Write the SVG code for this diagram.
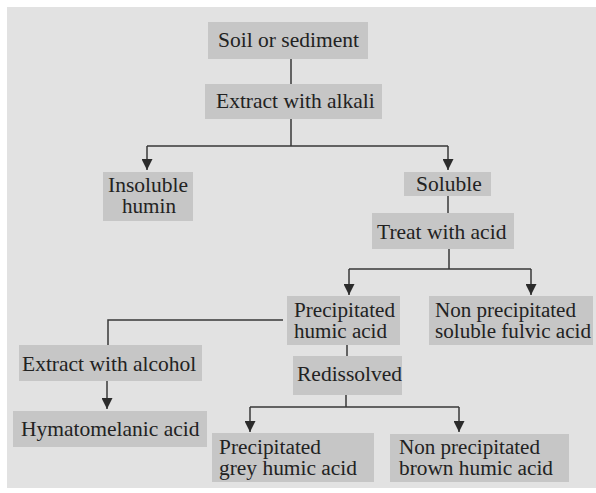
<svg xmlns="http://www.w3.org/2000/svg" width="596" height="493" viewBox="0 0 596 493">
<style>
.box{fill:#c6c6c6}
.t{font-family:"Liberation Serif","Times New Roman","DejaVu Serif",serif;font-size:21.5px;fill:#222222}
.s{font-size:20px}
.c{text-anchor:middle}
.ln{fill:none;stroke:#383838;stroke-width:1.5}
</style>
<defs>
<marker id="ah" viewBox="0 0 10 10" refX="10" refY="5" markerWidth="11" markerHeight="11" markerUnits="userSpaceOnUse" orient="auto">
<path d="M0,0 L10,5 L0,10 z" fill="#2b2b2b"/>
</marker>
</defs>
<rect x="0" y="0" width="596" height="493" fill="#ffffff"/>
<rect x="7" y="7" width="589" height="481" fill="#e2e2e2"/>
<g id="connectors">
<path class="ln" d="M291,59 V84"/>
<path class="ln" d="M291,119 V146 M147,146 H448"/>
<path class="ln" d="M147,146 V170" marker-end="url(#ah)"/>
<path class="ln" d="M448,146 V170" marker-end="url(#ah)"/>
<path class="ln" d="M448,196 V213"/>
<path class="ln" d="M449,249 V269 M349,269 H531"/>
<path class="ln" d="M349,269 V295" marker-end="url(#ah)"/>
<path class="ln" d="M531,269 V295" marker-end="url(#ah)"/>
<path class="ln" d="M283,320 H108 V345"/>
<path class="ln" d="M107,381 V409" marker-end="url(#ah)"/>
<path class="ln" d="M347,345 V356"/>
<path class="ln" d="M346,395 V407 M250,407 H459"/>
<path class="ln" d="M250,407 V432" marker-end="url(#ah)"/>
<path class="ln" d="M459,407 V432" marker-end="url(#ah)"/>
</g>
<g id="soil">
<rect class="box" x="208" y="22" width="160" height="37"/>
<text class="t" x="218" y="47">Soil or sediment</text>
</g>
<g id="extract-alkali">
<rect class="box" x="205" y="84" width="177" height="35"/>
<text class="t" x="216" y="108">Extract with alkali</text>
</g>
<g id="insoluble-humin">
<rect class="box" x="103" y="172" width="90" height="49"/>
<text class="t s c" x="148" y="192" textLength="80" lengthAdjust="spacingAndGlyphs">Insoluble</text>
<text class="t s c" x="149" y="213" textLength="54" lengthAdjust="spacingAndGlyphs">humin</text>
</g>
<g id="soluble">
<rect class="box" x="404" y="172" width="87" height="24"/>
<text class="t" x="416" y="191">Soluble</text>
</g>
<g id="treat-acid">
<rect class="box" x="372" y="213" width="142" height="36"/>
<text class="t" x="377" y="239">Treat with acid</text>
</g>
<g id="precip-humic">
<rect class="box" x="287" y="296" width="113" height="49"/>
<text class="t s" x="294" y="317" textLength="101" lengthAdjust="spacingAndGlyphs">Precipitated</text>
<text class="t s" x="294" y="338" textLength="93" lengthAdjust="spacingAndGlyphs">humic acid</text>
</g>
<g id="nonprecip-fulvic">
<rect class="box" x="429" y="296" width="164" height="49"/>
<text class="t s" x="435" y="317" textLength="141" lengthAdjust="spacingAndGlyphs">Non precipitated</text>
<text class="t s" x="435" y="338" textLength="156" lengthAdjust="spacingAndGlyphs">soluble fulvic acid</text>
</g>
<g id="extract-alcohol">
<rect class="box" x="19" y="345" width="183" height="36"/>
<text class="t" x="22" y="371">Extract with alcohol</text>
</g>
<g id="redissolved">
<rect class="box" x="293" y="356" width="109" height="39"/>
<text class="t" x="297" y="381">Redissolved</text>
</g>
<g id="hymatomelanic">
<rect class="box" x="13" y="411" width="194" height="36"/>
<text class="t" x="21" y="436">Hymatomelanic acid</text>
</g>
<g id="precip-grey">
<rect class="box" x="212" y="433" width="162" height="49"/>
<text class="t s" x="219" y="454" textLength="102" lengthAdjust="spacingAndGlyphs">Precipitated</text>
<text class="t s" x="219" y="475" textLength="138" lengthAdjust="spacingAndGlyphs">grey humic acid</text>
</g>
<g id="nonprecip-brown">
<rect class="box" x="390" y="434" width="179" height="48"/>
<text class="t s" x="399" y="454" textLength="141" lengthAdjust="spacingAndGlyphs">Non precipitated</text>
<text class="t s" x="399" y="475" textLength="154" lengthAdjust="spacingAndGlyphs">brown humic acid</text>
</g>
</svg>
